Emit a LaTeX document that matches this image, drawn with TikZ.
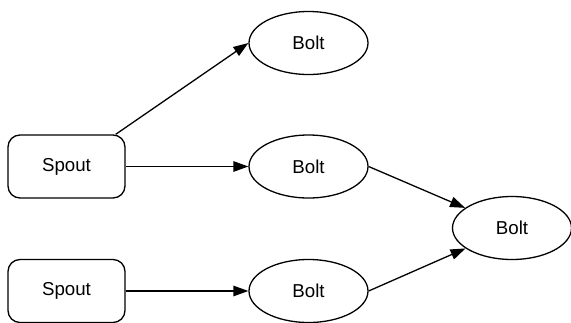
\documentclass[tikz,border=0pt]{standalone}
\usepackage{fontspec}
\setmainfont{Liberation Sans}
\usetikzlibrary{shapes.geometric,arrows.meta}

\begin{document}
\begin{tikzpicture}[x=1pt,y=-1pt,
spout/.style={draw, rectangle, rounded corners=12pt, line width=1.3pt, minimum width=117pt, minimum height=63pt, font=\fontsize{18.7}{22}\selectfont},
bolt/.style={draw, ellipse, line width=1.3pt, minimum width=119pt, minimum height=63pt, inner sep=0pt, font=\fontsize{18.7}{22}\selectfont},
flow/.style={line width=1.3pt, -{Triangle[length=15pt,width=10.5pt]}}
]
\useasboundingbox (0,0) rectangle (571,322);

\node[spout] (spout1) at (66.5,166.5) {Spout};
\node[spout] (spout2) at (66.5,291) {Spout};
\node[bolt] (bolt1) at (308.5,43) {Bolt};
\node[bolt] (bolt2) at (308.5,166.5) {Bolt};
\node[bolt] (bolt3) at (308.5,291) {Bolt};
\node[bolt] (bolt4) at (512,228) {Bolt};

\draw[flow] ([xshift=-10pt]spout1.north east) -- (bolt1.west);
\draw[flow] (spout1.east) -- (bolt2.west);
\draw[flow] (spout2.east) -- (bolt3.west);
\draw[flow] (bolt2.east) -- (bolt4);
\draw[flow] (bolt3.east) -- (bolt4);
\end{tikzpicture}
\end{document}
